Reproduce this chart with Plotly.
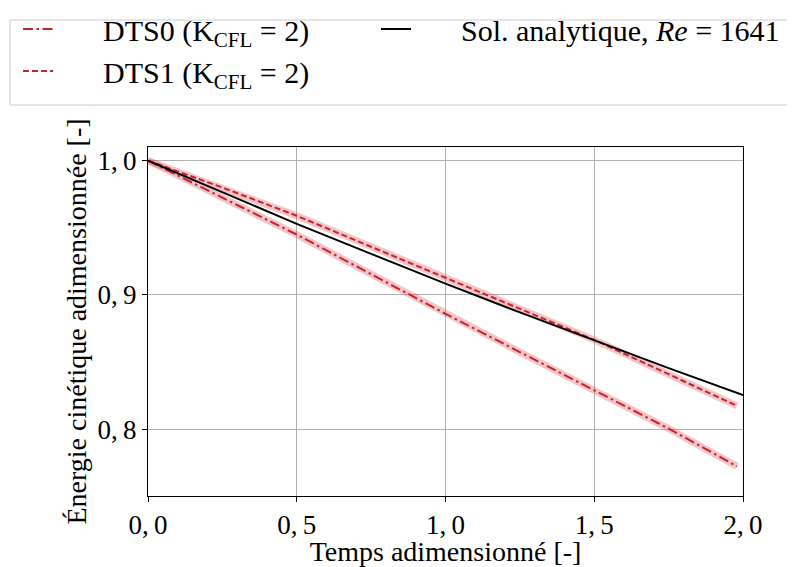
import plotly.graph_objects as go

t_num = [0.0, 0.25, 0.5, 0.75, 1.0, 1.25, 1.5, 1.75, 1.98]
e_dts0 = [1.0, 0.9725, 0.945, 0.9155, 0.886, 0.8575, 0.829, 0.8005, 0.7724]
e_dts1 = [1.0, 0.980, 0.959, 0.936, 0.9128, 0.8895, 0.8666, 0.841, 0.8174]
t_ana = [0.0, 0.25, 0.5, 0.75, 1.0, 1.25, 1.5, 1.75, 2.0]
e_ana = [1.0, 0.9763, 0.953, 0.9306, 0.9085, 0.887, 0.866, 0.8455, 0.8254]

x_ticks = [0.0, 0.5, 1.0, 1.5, 2.0]
x_ticktext = ["0,\u20090", "0,\u20095", "1,\u20090", "1,\u20095", "2,\u20090"]
y_ticks = [0.8, 0.9, 1.0]
y_ticktext = ["0,\u20098", "0,\u20099", "1,\u20090"]

RED = "#c0262c"
PINK = "rgba(220,90,100,0.35)"
FONT = "Liberation Serif"
PAD = "\u00a0" * 6

# plot area geometry (figure is offset 8 px by page margin)
L, T, PW, PH = 148, 147, 595, 349


def px_x(X):
    return (X - L) / PW


def px_y(Y):
    return 1 + (T - Y) / PH


fig = go.Figure()
for e in (e_dts0, e_dts1):
    fig.add_trace(go.Scatter(x=t_num, y=e, mode="lines", showlegend=False,
                             line=dict(color=PINK, width=7), hoverinfo="skip"))
fig.add_trace(go.Scatter(x=t_num, y=e_dts0, mode="lines",
                         name=PAD + "DTS0 (K<sub>CFL</sub> = 2)",
                         legend="legend", legendgroup="a",
                         line=dict(color=RED, width=2, dash="10px,3.5px,2.5px,3.5px")))
fig.add_trace(go.Scatter(x=t_num, y=e_dts1, mode="lines",
                         name=PAD + "DTS1 (K<sub>CFL</sub> = 2)",
                         legend="legend", legendgroup="b",
                         line=dict(color=RED, width=2, dash="6px,3px")))
fig.add_trace(go.Scatter(x=t_ana, y=e_ana, mode="lines",
                         name=PAD + "Sol. analytique, <i>Re</i> = 1641",
                         legend="legend2",
                         line=dict(color="black", width=2)))

axis_common = dict(showline=True, linecolor="black", linewidth=1, mirror=True,
                   ticks="outside", ticklen=5, tickcolor="black",
                   showgrid=True, gridcolor="#b0b0b0", gridwidth=1,
                   zeroline=False, automargin=False,
                   tickfont=dict(family=FONT, size=27, color="black"))

fig.update_xaxes(range=[0, 2.0], tickvals=x_ticks, ticktext=x_ticktext,
                 title=dict(text="Temps adimensionné [-]", standoff=0,
                            font=dict(family=FONT, size=28, color="black")),
                 **axis_common)
fig.update_yaxes(range=[0.7503, 1.0102], tickvals=y_ticks, ticktext=y_ticktext,
                 title=dict(text="Énergie cinétique adimensionnée [-]", standoff=2,
                            font=dict(family=FONT, size=28, color="black")),
                 **axis_common)

leg_common = dict(orientation="v", xanchor="left", yanchor="top",
                  bgcolor="rgba(0,0,0,0)", borderwidth=0,
                  font=dict(family=FONT, size=30, color="black"),
                  traceorder="normal", tracegroupgap=4)

fig.add_shape(type="rect", xref="paper", yref="paper",
              x0=px_x(10), x1=px_x(805), y0=px_y(105), y1=px_y(20),
              line=dict(color="#cccccc", width=1), fillcolor="white", layer="below")

fig.update_layout(
    width=787, height=559,
    margin=dict(l=140, r=52, t=139, b=71, autoexpand=False),
    paper_bgcolor="white", plot_bgcolor="white",
    font=dict(family=FONT, size=28, color="black"),
    showlegend=True,
    legend=dict(x=px_x(18), y=px_y(3), **leg_common),
    legend2=dict(x=px_x(376), y=px_y(3), **leg_common),
)

fig.write_html("out.html")
